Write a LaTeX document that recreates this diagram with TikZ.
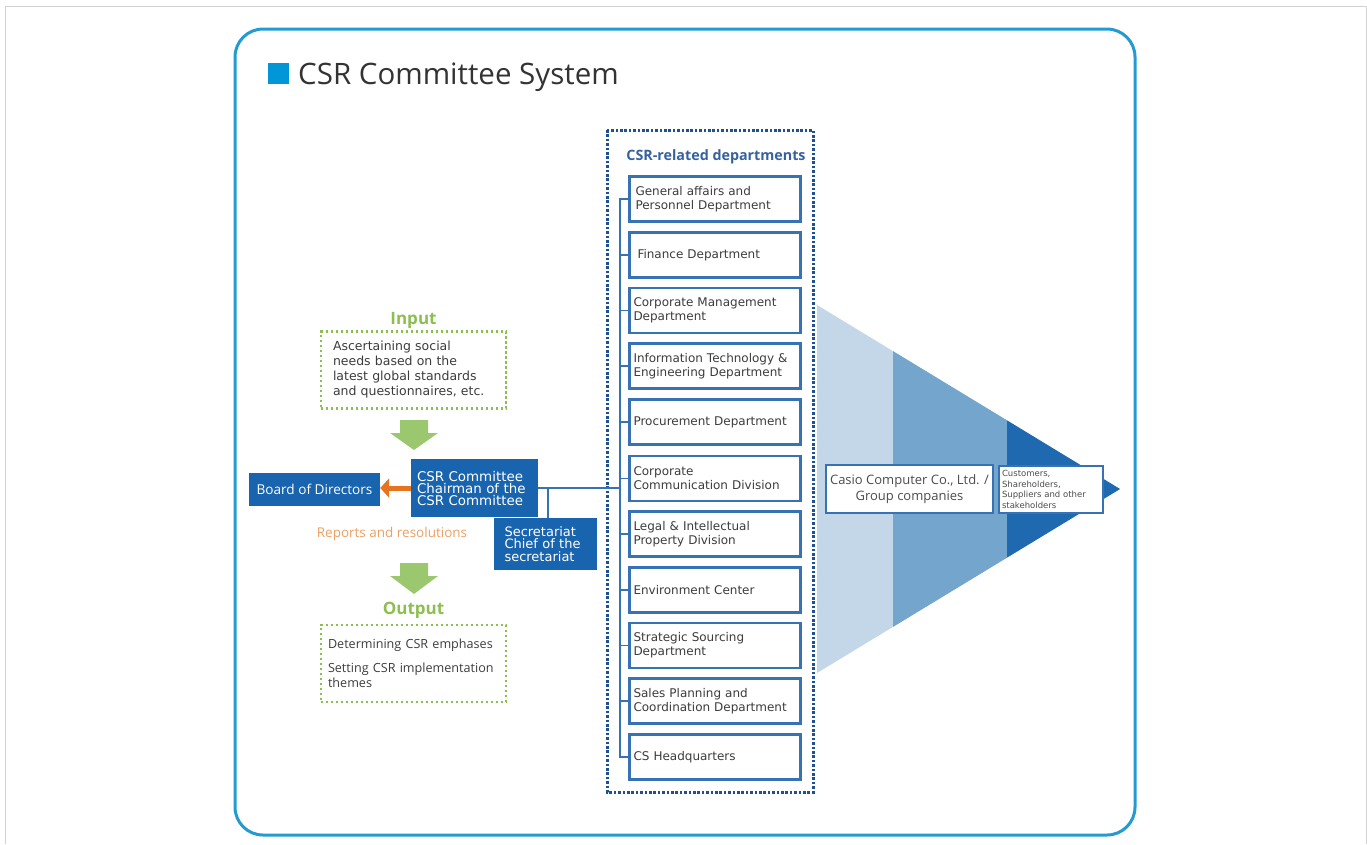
\documentclass[tikz,border=0pt]{standalone}
\usepackage{fontspec}
\setmainfont{Open Sans}
\newfontfamily\gothic{DejaVu Sans}
\usetikzlibrary{positioning,arrows.meta}

\definecolor{framecyan}{RGB}{35,155,210}
\definecolor{titlecyan}{RGB}{0,150,215}
\definecolor{deptblue}{RGB}{55,115,180}
\definecolor{dotblue}{RGB}{30,80,150}
\definecolor{chairblue}{RGB}{25,100,175}
\definecolor{ingreen}{RGB}{140,190,80}
\definecolor{blockgreen}{RGB}{155,200,110}
\definecolor{reportorange}{RGB}{235,160,100}
\definecolor{arroworange}{RGB}{230,115,30}
\definecolor{fanlight}{RGB}{195,215,232}
\definecolor{fanmid}{RGB}{115,165,205}
\definecolor{fandark}{RGB}{30,105,175}
\definecolor{textgrey}{RGB}{60,60,60}

\begin{document}
\begin{tikzpicture}[x=1pt,y=-1pt,
  dept/.style={draw=deptblue,line width=2.4pt,fill=white,minimum width=171pt,minimum height=45pt,
    text width=163pt,inner xsep=4pt,align=left,text=textgrey,font=\gothic\fontsize{12}{14}\selectfont},
  chairbox/.style={fill=chairblue,text=white,align=left,inner sep=0pt},
  greenbox/.style={draw=ingreen,line width=2.4pt,dash pattern=on 2.4pt off 2.6pt,minimum width=185pt,
    minimum height=77pt,align=left,text=textgrey,inner sep=0pt},
  stake/.style={draw=deptblue,line width=1.2pt,fill=white,inner sep=0pt},
  link/.style={draw=deptblue,line width=1.8pt},
  greenhead/.style={text=ingreen,font=\bfseries\fontsize{17}{20}\selectfont}
]
\useasboundingbox (0,0) rectangle (1367,844);
\draw[gray!35,line width=1pt] (5,844) -- (5,6) -- (1367,6) (1366,6) -- (1366,844);
\draw[framecyan,line width=3pt,rounded corners=28pt] (235,29) rectangle (1135,835);

% title
\fill[titlecyan] (268,63) rectangle (289,84);
\node[anchor=base west,inner sep=0pt,text=black!80,font=\fontsize{29.5}{31}\selectfont] (title) at (298,84) {CSR Committee System};

% fan of companies and stakeholders
\fill[fanlight] (817,305) -- (1120,489) -- (817,673) -- cycle;
\begin{scope}
  \clip (817,305) -- (1120,489) -- (817,673) -- cycle;
  \fill[fanmid] (893,300) rectangle (1007,680);
  \fill[fandark] (1007,300) rectangle (1125,680);
\end{scope}
\node[stake,minimum width=167pt,minimum height=48pt,align=center,text=black!70,font=\fontsize{13}{16}\selectfont] (casio) at (909.5,489) {Casio Computer Co., Ltd. /\\Group companies};
\node[stake,minimum width=104pt,minimum height=47pt,text width=98pt,align=left,text=black!70,font=\gothic\fontsize{8.5}{10.5}\selectfont] (stakeholders) at (1051,489.5) {Customers,\\Shareholders,\\Suppliers and other\\stakeholders};

% CSR-related departments
\draw[dotblue,line width=3pt,dash pattern=on 2.6pt off 1.8pt] (607,130) rectangle (813,792);
\node[text=dotblue!90,font=\bfseries\fontsize{14.3}{16}\selectfont] (deptitle) at (716,157) {CSR-related departments};
\node[dept] (general) at (715,199) {\,General affairs and\\\,Personnel Department};
\node[dept] (finance) at (715,255) {\ Finance Department};
\node[dept] (management) at (715,310.5) {Corporate Management\\Department};
\node[dept] (infotech) at (715,366) {Information Technology \&\\Engineering Department};
\node[dept] (procurement) at (715,422) {Procurement Department};
\node[dept] (communication) at (715,478.5) {Corporate\\Communication Division};
\node[dept] (legal) at (715,534) {Legal \& Intellectual\\Property Division};
\node[dept] (environment) at (715,590) {Environment Center};
\node[dept] (sourcing) at (715,645.5) {Strategic Sourcing\\Department};
\node[dept] (sales) at (715,701) {Sales Planning and\\Coordination Department};
\node[dept] (cs) at (715,757) {CS Headquarters};
\coordinate (bar) at (620,0);
\draw[link] (general.west) -- (general.west -| bar) -- (cs.west -| bar) -- (cs.west)
  (finance.west) -- (finance.west -| bar) (management.west) -- (management.west -| bar)
  (infotech.west) -- (infotech.west -| bar) (procurement.west) -- (procurement.west -| bar)
  (communication.west) -- (communication.west -| bar) (legal.west) -- (legal.west -| bar)
  (environment.west) -- (environment.west -| bar) (sourcing.west) -- (sourcing.west -| bar)
  (sales.west) -- (sales.west -| bar); % <- end bracket

% committee
\node[chairbox,minimum width=127pt,minimum height=58pt,text width=115pt,font=\gothic\fontsize{13.4}{12}\selectfont] (chair) at (474.5,488) {CSR Committee\\Chairman of the\\CSR Committee};
\node[chairbox,minimum width=131pt,minimum height=33pt,align=center,font=\fontsize{13.6}{16}\selectfont] (board) at (314.5,489) {Board of Directors};
\node[chairbox,minimum width=103pt,minimum height=52pt,text width=82pt,font=\gothic\fontsize{13}{12.5}\selectfont] (secretariat) at (545.5,544) {Secretariat\\Chief of the\\secretariat};
\draw[link] (chair.east) -- (chair.east -| bar);
\path (chair.east) ++(10,0) coordinate (join);
\draw[link] (join) -- (join |- secretariat.north);
\draw[arroworange,line width=5pt,-{Triangle[length=9pt,width=19pt]}] (chair.west) -- (chair.west -| board.east);
\node[text=reportorange,font=\fontsize{13.5}{16}\selectfont] (reports) at (392,534) {Reports and resolutions};

% input and output
\node[greenhead] (inhead) at (413.5,320) {Input};
\node[greenbox,text width=161pt,font=\gothic\fontsize{12.5}{15}\selectfont] (input) at (413.5,370) {Ascertaining social\\needs based on the\\latest global standards\\and questionnaires, etc.};
\fill[blockgreen] (400,420) -- (428,420) -- (428,433) -- (438,433) -- (414,450) -- (390,433) -- (400,433) -- cycle;
\fill[blockgreen] (400,563) -- (428,563) -- (428,576) -- (438,576) -- (414,594) -- (390,576) -- (400,576) -- cycle;
\node[greenhead] (outhead) at (413.5,610) {Output};
\node[greenbox,text width=171pt,font=\fontsize{12.6}{15}\selectfont] (output) at (413.5,663.5) {Determining CSR emphases\\[9pt]Setting CSR implementation\\themes};
\end{tikzpicture}
\end{document}
